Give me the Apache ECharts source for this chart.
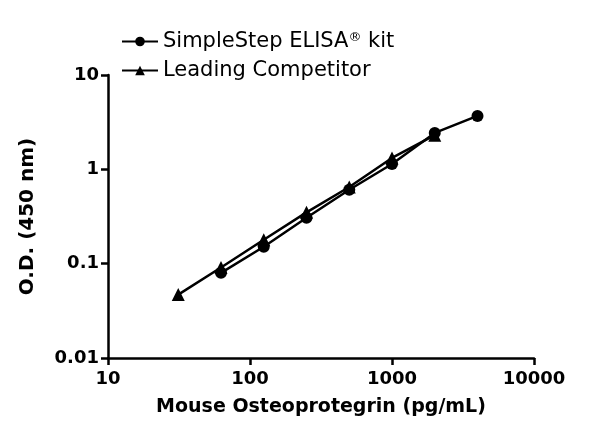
<!DOCTYPE html>
<html>
<head>
<meta charset="utf-8">
<script src="https://cdn.jsdelivr.net/npm/echarts@6/dist/echarts.min.js"></script>
<style>
  html, body { margin: 0; padding: 0; background: #fff; }
  #chart { width: 600px; height: 447px; }
</style>
</head>
<body>
<div id="chart"></div>
<script>
// 数据
var simpleX = [62.5, 125, 250, 500, 1000, 2000, 4000];
var simpleY = [0.080, 0.151, 0.307, 0.607, 1.14, 2.43, 3.68];
var compX = [31.25, 62.5, 125, 250, 500, 1000, 2000];
var compY = [0.047, 0.091, 0.179, 0.35, 0.65, 1.32, 2.3];
var seriesNames = ['SimpleStep ELISA® kit', 'Leading Competitor'];

function pairs(xs, ys){
    return xs.map(function(x, i){ return [x, ys[i]]; });
}
function plain(v){
    return String(+v.toPrecision(3));
}

var chart = echarts.init(document.getElementById('chart'));
var font = 'DejaVu Sans';
var option = {
    animation: false,
    grid: { left: 108, right: 66, top: 75, bottom: 89 },
    legend: {
        orient: 'vertical',
        left: 116,
        top: 26,
        itemWidth: 36,
        itemHeight: 12,
        itemGap: 8,
        data: seriesNames,
        formatter: function(name){
            return name.replace('®', '{sup|®}');
        },
        textStyle: {
            fontFamily: font, fontSize: 21, color: '#000',
            rich: { sup: { fontFamily: font, fontSize: 13, verticalAlign: 'top', padding: [0, 0, 8, 0] } }
        }
    },
    xAxis: {
        type: 'log',
        logBase: 10,
        min: 10,
        max: 10000,
        name: 'Mouse Osteoprotegrin (pg/mL)',
        nameLocation: 'middle',
        nameGap: 40,
        nameTextStyle: { fontFamily: font, fontSize: 19, fontWeight: 'bold', color: '#000' },
        axisLine: { lineStyle: { color: '#000', width: 2.5 } },
        axisTick: { inside: false, length: 7, lineStyle: { color: '#000', width: 2.5 } },
        axisLabel: { fontFamily: font, fontSize: 18, fontWeight: 'bold', color: '#000', margin: 12, formatter: plain },
        splitLine: { show: false }
    },
    yAxis: {
        type: 'log',
        logBase: 10,
        min: 0.01,
        max: 10,
        name: 'O.D. (450 nm)',
        nameLocation: 'middle',
        nameGap: 70,
        nameTextStyle: { fontFamily: font, fontSize: 20, fontWeight: 'bold', color: '#000' },
        axisLine: { lineStyle: { color: '#000', width: 2.5 } },
        axisTick: { inside: false, length: 7, lineStyle: { color: '#000', width: 2.5 } },
        axisLabel: { fontFamily: font, fontSize: 18, fontWeight: 'bold', color: '#000', margin: 9, formatter: plain },
        splitLine: { show: false }
    },
    series: [
        {
            name: seriesNames[0],
            type: 'line',
            data: pairs(simpleX, simpleY),
            symbol: 'circle',
            symbolSize: 12,
            itemStyle: { color: '#000' },
            lineStyle: { color: '#000', width: 2.5 },
            z: 3
        },
        {
            name: seriesNames[1],
            type: 'line',
            data: pairs(compX, compY),
            symbol: 'triangle',
            symbolSize: 13,
            itemStyle: { color: '#000' },
            lineStyle: { color: '#000', width: 2.5 },
            z: 2
        }
    ]
};
chart.setOption(option);
</script>
</body>
</html>
